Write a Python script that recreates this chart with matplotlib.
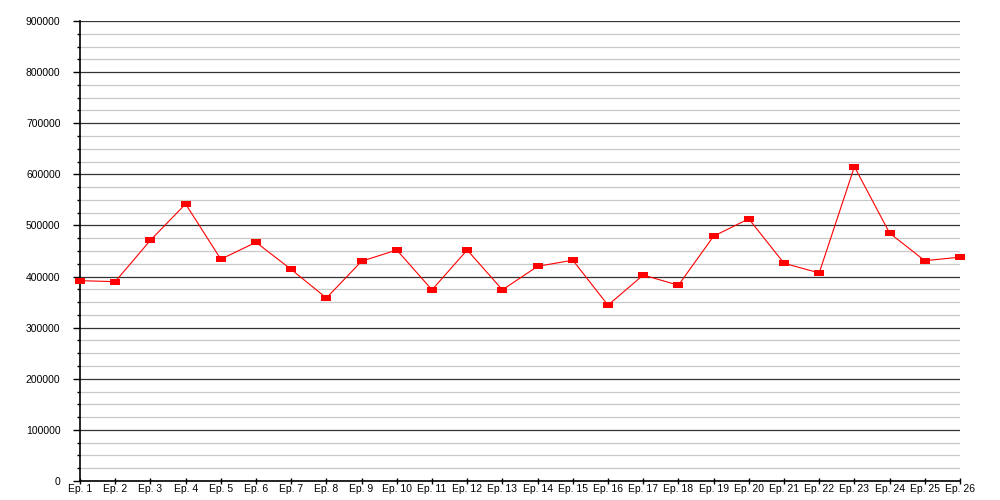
import matplotlib
matplotlib.use("Agg")
import matplotlib.pyplot as plt
from matplotlib.path import Path
from matplotlib.ticker import MultipleLocator, FuncFormatter

episodes = [f"Ep. {i}" for i in range(1, 27)]
viewers = [392000, 390000, 471000, 542000, 434000, 467000, 414000, 358000,
           430000, 452000, 374000, 452000, 374000, 420000, 432000, 344000,
           403000, 383000, 479000, 513000, 426000, 407000, 615000, 485000,
           431000, 438000]

plt.rcParams['font.family'] = ['Liberation Sans', 'DejaVu Sans']

fig = plt.figure(figsize=(10, 5), dpi=100)
ax = fig.add_axes([0.08, 0.038, 0.88, 0.92])

x = list(range(len(episodes)))
rect = Path([(-1, -0.65), (1, -0.65), (1, 0.65), (-1, 0.65), (-1, -0.65)],
            [Path.MOVETO, Path.LINETO, Path.LINETO, Path.LINETO, Path.CLOSEPOLY])
ax.plot(x, viewers, color='#ff0000', linewidth=0.8, marker=rect,
        markersize=7.5, markerfacecolor='#ff0000', markeredgewidth=0, zorder=5,
        clip_on=False)

ax.set_xlim(0, len(episodes) - 1)
ax.set_ylim(0, 900000)
ax.set_xticks(x)
ax.set_xticklabels(episodes)
ax.yaxis.set_major_locator(MultipleLocator(100000))
ax.yaxis.set_minor_locator(MultipleLocator(25000))
ax.yaxis.set_major_formatter(FuncFormatter(lambda v, p: f"{int(v)}"))

ax.grid(which='major', axis='y', color='#333333', linewidth=0.9)
ax.grid(which='minor', axis='y', color='#c8c8c8', linewidth=0.9)
ax.set_axisbelow(True)

for s in ['top', 'right']:
    ax.spines[s].set_visible(False)
ax.spines['left'].set_linewidth(1.2)
ax.spines['bottom'].set_linewidth(1.2)

ax.tick_params(axis='y', which='major', length=5, width=1, direction='out',
               labelsize=7.5, pad=9)
ax.tick_params(axis='y', which='minor', length=2.5, width=1, direction='out')
ax.tick_params(axis='x', which='major', length=5, width=1, direction='inout',
               labelsize=7.5, pad=0)

fig.savefig('out.png', dpi=100)
